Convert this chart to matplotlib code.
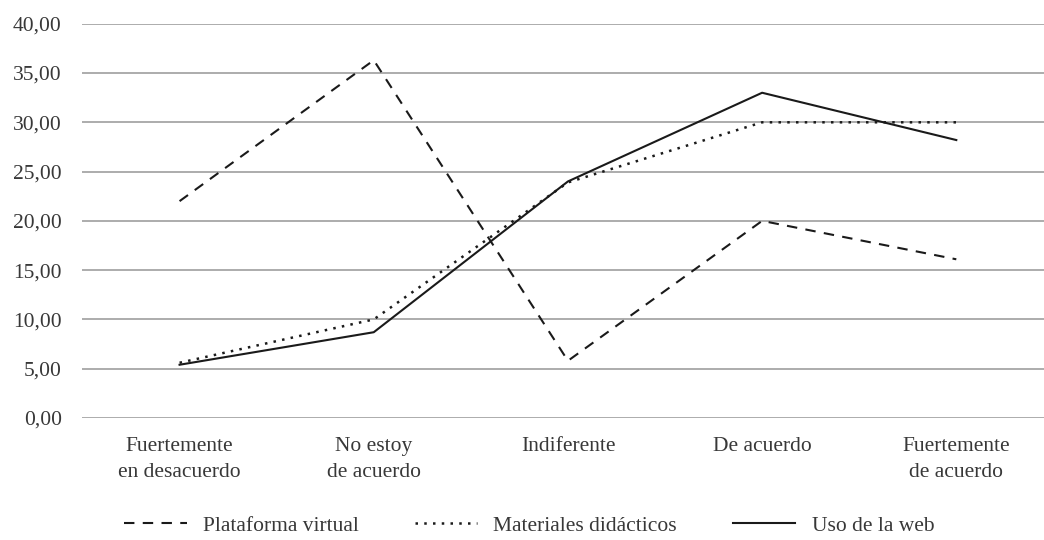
import numpy as np
import matplotlib.pyplot as plt

categorias = ["Fuertemente\nen desacuerdo", "No estoy\nde acuerdo", "Indiferente",
              "De acuerdo", "Fuertemente\nde acuerdo"]
plataforma = [22.0, 36.3, 5.8, 20.0, 16.1]
materiales = [5.6, 10.0, 23.9, 30.0, 30.0]
uso_web = [5.4, 8.7, 24.0, 33.0, 28.2]
y_ticks = [0, 5, 10, 15, 20, 25, 30, 35, 40]

plt.rcParams['font.family'] = ['Liberation Serif', 'DejaVu Serif']

fig = plt.figure(figsize=(10.44, 5.4), dpi=100)
ax = fig.add_axes([0.079, 0.226, 0.93, 0.73])

x = np.arange(len(categorias))
ax.plot(x, plataforma, color='#1a1a1a', lw=1.5, ls=(0, (5, 4)), label='Plataforma virtual')
ax.plot(x, materiales, color='#1a1a1a', lw=1.8, ls=(0, (1, 2.5)), label='Materiales didácticos')
ax.plot(x, uso_web, color='#1a1a1a', lw=1.5, ls='-', label='Uso de la web')

ax.set_ylim(0, 40)
ax.set_xlim(-0.5, 4.5)
ax.set_yticks(y_ticks)
ax.set_yticklabels([f"{v:.2f}".replace('.', ',') for v in y_ticks])
ax.set_xticks(x)
ax.set_xticklabels(categorias, linespacing=1.45)
ax.yaxis.grid(True, color='#a6a6a6', lw=1.3)
ax.set_axisbelow(True)
for s in ax.spines.values():
    s.set_visible(False)
ax.tick_params(length=0, labelsize=15.5, colors='#383838')
ax.tick_params(axis='y', pad=15)
ax.tick_params(axis='x', pad=14)

fig.legend(loc='lower center', ncol=3, frameon=False, fontsize=15.5,
           handlelength=2.9, handletextpad=0.75, columnspacing=2.6,
           bbox_to_anchor=(0.507, -0.028), labelcolor='#383838')

plt.savefig("out.png", dpi=100)
